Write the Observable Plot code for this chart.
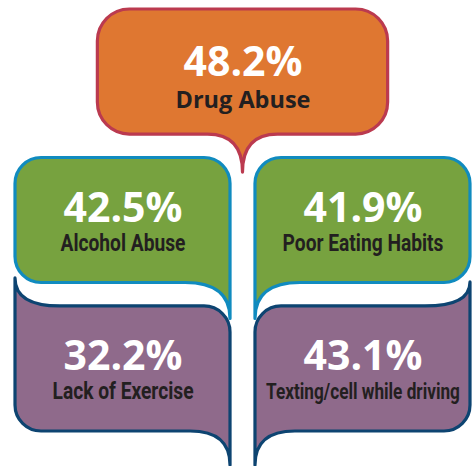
<!DOCTYPE html>
<html><head><meta charset="utf-8">
<script src="https://cdn.jsdelivr.net/npm/d3@7"></script>
<script src="https://cdn.jsdelivr.net/npm/@observablehq/plot@0.6"></script>
<style>body{margin:0;background:#fff}</style>
</head><body><div id="chart"></div>
<script>
const categories = ["Drug Abuse", "Alcohol Abuse", "Poor Eating Habits", "Lack of Exercise", "Texting/cell while driving"];
const values = [48.2, 42.5, 41.9, 32.2, 43.1];

// layout derived from order: first item on top, then two per row
const table = categories.map((c, i) => ({
  category: c,
  value: values[i],
  row: i === 0 ? 0 : Math.ceil(i / 2),
  col: i === 0 ? null : (i - 1) % 2
}));

const fills = ["#df7731", "#77a23f", "#8f6a8b"];
const strokes = ["#bb3a4f", "#108bbf", "#0d4471"];

function bubblePath(x0, x1, y0, y1, o) {
  const r = o.r;
  let s = o.tl ? `M${x0 + o.tl.w},${y0}` : `M${x0 + r},${y0}`;
  if (o.tr) s += `L${x1 - o.tr.w},${y0}Q${x1},${y0} ${x1},${y0 - o.tr.h}`;
  else s += `L${x1 - r},${y0}A${r},${r} 0 0 1 ${x1},${y0 + r}`;
  if (o.br) s += `L${x1},${y1 + o.br.h}Q${x1},${y1} ${x1 - o.br.w},${y1}`;
  else s += `L${x1},${y1 - r}A${r},${r} 0 0 1 ${x1 - r},${y1}`;
  if (o.bc) {
    const cx = (x0 + x1) / 2;
    s += `L${cx + o.bc.w},${y1}Q${cx},${y1} ${cx},${y1 + o.bc.h}Q${cx},${y1} ${cx - o.bc.w},${y1}`;
  }
  if (o.bl) s += `L${x0 + o.bl.w},${y1}Q${x0},${y1} ${x0},${y1 + o.bl.h}`;
  else s += `L${x0 + r},${y1}A${r},${r} 0 0 1 ${x0},${y1 - r}`;
  if (o.tl) s += `L${x0},${y0 - o.tl.h}Q${x0},${y0} ${x0 + o.tl.w},${y0}Z`;
  else s += `L${x0},${y0 + r}A${r},${r} 0 0 1 ${x0 + r},${y0}Z`;
  return s;
}

function bubbles(index, scales) {
  const X = scales.x, Y = scales.y;
  const bw = X.bandwidth(), bh = Y.bandwidth();
  const g = d3.create("svg:g");
  for (const d of table) {
    const y0 = Y(d.row), y1 = y0 + bh;
    let x0, x1, o;
    if (d.row === 0) {
      const cx = (X(0) + X(1) + bw) / 2, hw = bw * 0.675;
      x0 = cx - hw; x1 = cx + hw;
      o = {r: 32, bc: {w: 35, h: 38}};
    } else {
      x0 = X(d.col); x1 = x0 + bw;
      if (d.row === 1) {
        o = d.col === 0 ? {r: 26, br: {w: 45, h: 36}} : {r: 26, bl: {w: 45, h: 36}};
      } else {
        o = d.col === 0
          ? {r: 26, tl: {w: 45, h: 28}, br: {w: 40, h: 34}}
          : {r: 26, tr: {w: 45, h: 24}, bl: {w: 40, h: 34}};
      }
    }
    g.append("path")
      .attr("d", bubblePath(x0, x1, y0, y1, o))
      .attr("fill", fills[d.row])
      .attr("stroke", strokes[d.row])
      .attr("stroke-width", 3.2)
      .attr("stroke-linejoin", "round");
  }
  return g.node();
}

const top1 = table.filter(d => d.row === 0);
const grid = table.filter(d => d.row > 0);
const pct = d => d.value.toFixed(1) + "%";

const chart = Plot.plot({
  width: 474,
  height: 466,
  marginLeft: 15,
  marginRight: 4,
  marginTop: 9,
  marginBottom: 35,
  x: {type: "band", domain: [0, 1], paddingInner: 0.104, paddingOuter: 0, round: false, axis: null},
  y: {type: "band", domain: [0, 1, 2], paddingInner: 0.158, paddingOuter: 0, round: false, axis: null},
  marks: [
    bubbles,
    Plot.text(top1, {y: "row", text: pct, fill: "white", fontFamily: "'Open Sans', sans-serif", fontWeight: "bold", fontSize: 41, lineAnchor: "bottom", dy: 3.5}),
    Plot.text(top1, {y: "row", text: "category", fill: "#231f20", fontFamily: "'Open Sans', sans-serif", fontWeight: "bold", fontSize: 23.5, lineAnchor: "bottom", dy: 36}),
    Plot.text(grid, {x: "col", y: "row", text: pct, fill: "white", fontFamily: "'Open Sans', sans-serif", fontWeight: "bold", fontSize: 41, lineAnchor: "bottom", dy: 1}),
    Plot.text(grid, {x: "col", y: "row", text: "category", fill: "#231f20", fontFamily: "Roboto, sans-serif", fontWeight: "bold", fontSize: d => d.category.length > 20 ? 21.5 : 24, lineAnchor: "bottom", dy: 30.5})
  ]
});
document.getElementById("chart").appendChild(chart);

// condensed look for the grid labels (horizontal squeeze around each text's anchor)
d3.select(chart).selectAll("g[font-family^='Roboto'] text").each(function() {
  const cx = +this.getAttribute("x") || 0;
  const t = this.getAttribute("transform") || "";
  this.setAttribute("transform", `${t} translate(${cx},0) scale(0.8,1) translate(${-cx},0)`.trim());
});
</script>
</body></html>
